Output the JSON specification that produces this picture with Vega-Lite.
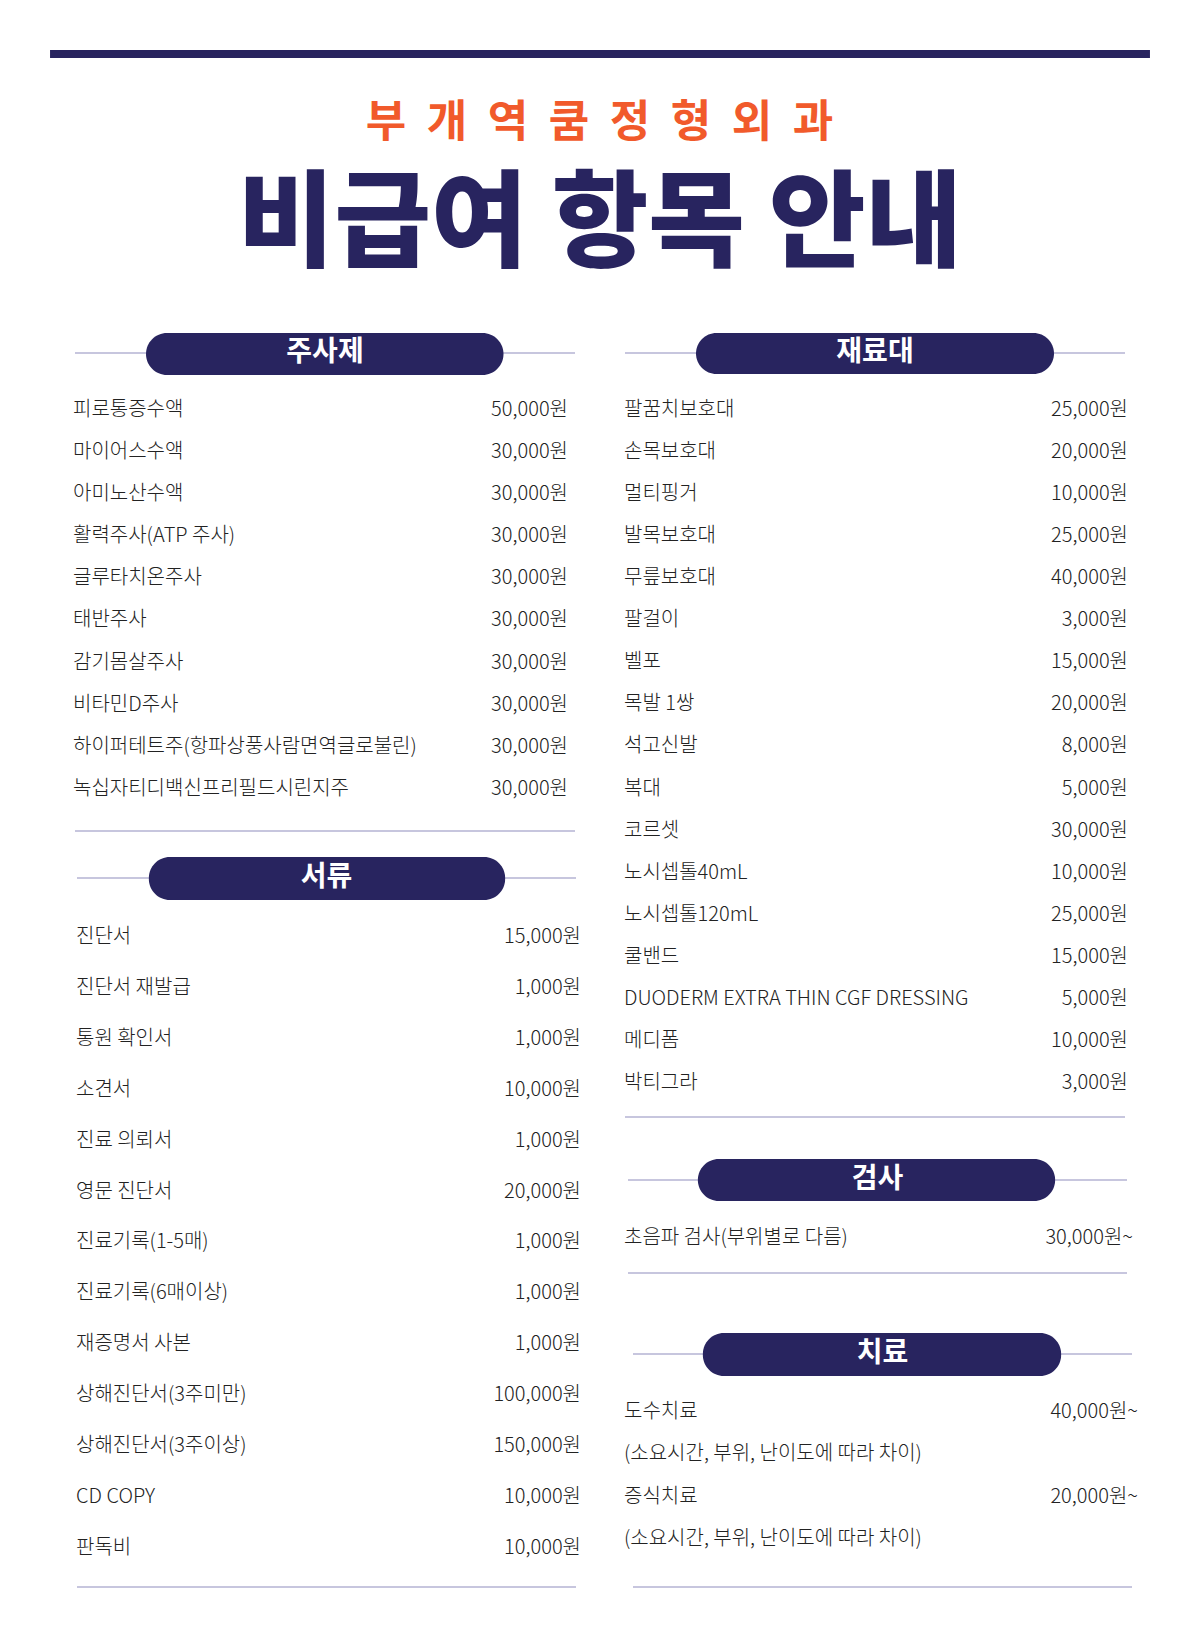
{
  "$schema": "https://vega.github.io/schema/vega-lite/v6.json",
  "padding": 0,
  "background": "#ffffff",
  "spacing": 0,
  "bounds": "flush",
  "datasets": {
    "clinic": [
      {"char": "부"}, {"char": "개"}, {"char": "역"}, {"char": "쿰"},
      {"char": "정"}, {"char": "형"}, {"char": "외"}, {"char": "과"}
    ],
    "injections": [
      {"item": "피로통증수액", "price": "50,000원"},
      {"item": "마이어스수액", "price": "30,000원"},
      {"item": "아미노산수액", "price": "30,000원"},
      {"item": "활력주사(ATP 주사)", "price": "30,000원"},
      {"item": "글루타치온주사", "price": "30,000원"},
      {"item": "태반주사", "price": "30,000원"},
      {"item": "감기몸살주사", "price": "30,000원"},
      {"item": "비타민D주사", "price": "30,000원"},
      {"item": "하이퍼테트주(항파상풍사람면역글로불린)", "price": "30,000원"},
      {"item": "녹십자티디백신프리필드시린지주", "price": "30,000원"}
    ],
    "documents": [
      {"item": "진단서", "price": "15,000원"},
      {"item": "진단서 재발급", "price": "1,000원"},
      {"item": "통원 확인서", "price": "1,000원"},
      {"item": "소견서", "price": "10,000원"},
      {"item": "진료 의뢰서", "price": "1,000원"},
      {"item": "영문 진단서", "price": "20,000원"},
      {"item": "진료기록(1-5매)", "price": "1,000원"},
      {"item": "진료기록(6매이상)", "price": "1,000원"},
      {"item": "재증명서 사본", "price": "1,000원"},
      {"item": "상해진단서(3주미만)", "price": "100,000원"},
      {"item": "상해진단서(3주이상)", "price": "150,000원"},
      {"item": "CD COPY", "price": "10,000원"},
      {"item": "판독비", "price": "10,000원"}
    ],
    "materials": [
      {"item": "팔꿈치보호대", "price": "25,000원"},
      {"item": "손목보호대", "price": "20,000원"},
      {"item": "멀티핑거", "price": "10,000원"},
      {"item": "발목보호대", "price": "25,000원"},
      {"item": "무릎보호대", "price": "40,000원"},
      {"item": "팔걸이", "price": "3,000원"},
      {"item": "벨포", "price": "15,000원"},
      {"item": "목발 1쌍", "price": "20,000원"},
      {"item": "석고신발", "price": "8,000원"},
      {"item": "복대", "price": "5,000원"},
      {"item": "코르셋", "price": "30,000원"},
      {"item": "노시셉톨40mL", "price": "10,000원"},
      {"item": "노시셉톨120mL", "price": "25,000원"},
      {"item": "쿨밴드", "price": "15,000원"},
      {"item": "DUODERM EXTRA THIN CGF DRESSING", "price": "5,000원"},
      {"item": "메디폼", "price": "10,000원"},
      {"item": "박티그라", "price": "3,000원"}
    ],
    "tests": [
      {"item": "초음파 검사(부위별로 다름)", "price": "30,000원~"}
    ],
    "treatments": [
      {"item": "도수치료", "price": "40,000원~"},
      {"item": "(소요시간, 부위, 난이도에 따라 차이)", "price": ""},
      {"item": "증식치료", "price": "20,000원~"},
      {"item": "(소요시간, 부위, 난이도에 따라 차이)", "price": ""}
    ]
  },
  "vconcat": [
    {
      "width": 1200,
      "height": 310,
      "resolve": {"scale": {"x": "independent"}},
      "layer": [
        {
          "data": {"values": [{}]},
          "mark": {"type": "rule", "color": "#28245f", "strokeWidth": 8},
          "encoding": {
            "x": {"datum": 0.0417, "type": "quantitative", "scale": {"domain": [0, 1], "nice": false, "zero": false}, "axis": null},
            "x2": {"datum": 0.9583},
            "y": {"datum": 0.174, "type": "quantitative", "scale": {"domain": [0, 1], "reverse": true, "nice": false, "zero": false}, "axis": null}
          }
        },
        {
          "data": {"name": "clinic"},
          "mark": {"type": "text", "color": "#f15a2b", "fontSize": 44, "fontWeight": "bold", "align": "center", "baseline": "middle", "font": "Noto Sans CJK KR"},
          "encoding": {
            "x": {"field": "char", "type": "nominal", "sort": null, "scale": {"type": "point", "range": [386, 813], "padding": 0}, "axis": null},
            "y": {"datum": 0.4, "type": "quantitative", "axis": null},
            "text": {"field": "char"}
          }
        },
        {
          "data": {"values": [{"title": "비급여 항목 안내"}]},
          "mark": {"type": "text", "color": "#28245f", "fontSize": 105, "fontWeight": 900, "align": "center", "baseline": "middle", "font": "Noto Sans CJK KR"},
          "encoding": {
            "x": {"datum": 0.5, "type": "quantitative", "scale": {"domain": [0, 1], "nice": false, "zero": false}, "axis": null},
            "y": {"datum": 0.73, "type": "quantitative", "axis": null},
            "text": {"field": "title"}
          }
        }
      ]
    },
    {
      "spacing": 0,
      "bounds": "full",
      "resolve": {"scale": {"x": "independent", "y": "independent"}},
      "hconcat": [
        {
          "spacing": 0,
          "bounds": "flush",
          "resolve": {"scale": {"x": "independent", "y": "independent"}},
          "vconcat": [
            {
              "width": 600,
              "height": 540,
              "layer": [
                {
                  "data": {"values": [{}]},
                  "mark": {"type": "rule", "color": "#b5b3d3", "strokeWidth": 1.5},
                  "encoding": {
                    "x": {"datum": 0, "type": "quantitative", "scale": {"domain": [0, 1], "range": [75, 575], "nice": false, "zero": false}, "axis": null},
                    "x2": {"datum": 1},
                    "y": {"datum": -0.306, "type": "quantitative", "scale": {"domain": [-1.328, 11.499], "reverse": true, "nice": false, "zero": false}, "axis": null}
                  }
                },
                {
                  "data": {"values": [{}]},
                  "mark": {"type": "rule", "color": "#b5b3d3", "strokeWidth": 1.5},
                  "encoding": {
                    "x": {"datum": 0, "type": "quantitative", "axis": null},
                    "x2": {"datum": 1},
                    "y": {"datum": 11.048, "type": "quantitative", "axis": null}
                  }
                },
                {
                  "data": {"values": [{}]},
                  "mark": {"type": "rect", "color": "#28245f", "cornerRadius": 21},
                  "encoding": {
                    "x": {"datum": 0.142, "type": "quantitative", "axis": null},
                    "x2": {"datum": 0.857},
                    "y": {"datum": -0.781, "type": "quantitative", "axis": null},
                    "y2": {"datum": 0.216}
                  }
                },
                {
                  "data": {"values": [{"title": "주사제"}]},
                  "mark": {"type": "text", "color": "#ffffff", "fontSize": 28, "fontWeight": "bold", "align": "center", "baseline": "middle"},
                  "encoding": {
                    "x": {"datum": 0.5, "type": "quantitative", "axis": null},
                    "y": {"datum": -0.306, "type": "quantitative", "axis": null},
                    "text": {"field": "title"}
                  }
                },
                {
                  "data": {"name": "injections"},
                  "transform": [{"window": [{"op": "row_number", "as": "no"}]}],
                  "layer": [
                    {
                      "mark": {"type": "text", "align": "left", "baseline": "middle", "fontSize": 20, "fontWeight": 300, "color": "#222222", "dx": -2, "dy": 2},
                      "encoding": {
                        "x": {"datum": 0, "type": "quantitative", "axis": null},
                        "y": {"field": "no", "type": "quantitative", "axis": null},
                        "text": {"field": "item"}
                      }
                    },
                    {
                      "mark": {"type": "text", "align": "right", "baseline": "middle", "fontSize": 20, "fontWeight": 300, "color": "#222222", "dx": -7, "dy": 2},
                      "encoding": {
                        "x": {"datum": 1, "type": "quantitative", "axis": null},
                        "y": {"field": "no", "type": "quantitative", "axis": null},
                        "text": {"field": "price"}
                      }
                    }
                  ]
                }
              ]
            },
            {
              "width": 600,
              "height": 750,
              "layer": [
                {
                  "data": {"values": [{}]},
                  "mark": {"type": "rule", "color": "#b5b3d3", "strokeWidth": 1.5},
                  "encoding": {
                    "x": {"datum": 0, "type": "quantitative", "scale": {"domain": [0, 1], "range": [77, 576], "nice": false, "zero": false}, "axis": null},
                    "x2": {"datum": 1},
                    "y": {"datum": -0.1, "type": "quantitative", "scale": {"domain": [-0.65, 14.084], "reverse": true, "nice": false, "zero": false}, "axis": null}
                  }
                },
                {
                  "data": {"values": [{}]},
                  "mark": {"type": "rule", "color": "#b5b3d3", "strokeWidth": 1.5},
                  "encoding": {
                    "x": {"datum": 0, "type": "quantitative", "axis": null},
                    "x2": {"datum": 1},
                    "y": {"datum": 13.829, "type": "quantitative", "axis": null}
                  }
                },
                {
                  "data": {"values": [{}]},
                  "mark": {"type": "rect", "color": "#28245f", "cornerRadius": 21},
                  "encoding": {
                    "x": {"datum": 0.144, "type": "quantitative", "axis": null},
                    "x2": {"datum": 0.858},
                    "y": {"datum": -0.513, "type": "quantitative", "axis": null},
                    "y2": {"datum": 0.332}
                  }
                },
                {
                  "data": {"values": [{"title": "서류"}]},
                  "mark": {"type": "text", "color": "#ffffff", "fontSize": 28, "fontWeight": "bold", "align": "center", "baseline": "middle"},
                  "encoding": {
                    "x": {"datum": 0.5, "type": "quantitative", "axis": null},
                    "y": {"datum": -0.1, "type": "quantitative", "axis": null},
                    "text": {"field": "title"}
                  }
                },
                {
                  "data": {"name": "documents"},
                  "transform": [{"window": [{"op": "row_number", "as": "no"}]}],
                  "layer": [
                    {
                      "mark": {"type": "text", "align": "left", "baseline": "middle", "fontSize": 20, "fontWeight": 300, "color": "#222222", "dx": -1, "dy": 3},
                      "encoding": {
                        "x": {"datum": 0, "type": "quantitative", "axis": null},
                        "y": {"field": "no", "type": "quantitative", "axis": null},
                        "text": {"field": "item"}
                      }
                    },
                    {
                      "mark": {"type": "text", "align": "right", "baseline": "middle", "fontSize": 20, "fontWeight": 300, "color": "#222222", "dx": 5, "dy": 3},
                      "encoding": {
                        "x": {"datum": 1, "type": "quantitative", "axis": null},
                        "y": {"field": "no", "type": "quantitative", "axis": null},
                        "text": {"field": "price"}
                      }
                    }
                  ]
                }
              ]
            }
          ]
        },
        {
          "spacing": 0,
          "bounds": "flush",
          "resolve": {"scale": {"x": "independent", "y": "independent"}},
          "vconcat": [
            {
              "width": 600,
              "height": 830,
              "layer": [
                {
                  "data": {"values": [{}]},
                  "mark": {"type": "rule", "color": "#b5b3d3", "strokeWidth": 1.5},
                  "encoding": {
                    "x": {"datum": 0, "type": "quantitative", "scale": {"domain": [0, 1], "range": [25, 525], "nice": false, "zero": false}, "axis": null},
                    "x2": {"datum": 1},
                    "y": {"datum": -0.308, "type": "quantitative", "scale": {"domain": [-1.33, 18.404], "reverse": true, "nice": false, "zero": false}, "axis": null}
                  }
                },
                {
                  "data": {"values": [{}]},
                  "mark": {"type": "rule", "color": "#b5b3d3", "strokeWidth": 1.5},
                  "encoding": {
                    "x": {"datum": 0, "type": "quantitative", "axis": null},
                    "x2": {"datum": 1},
                    "y": {"datum": 17.857, "type": "quantitative", "axis": null}
                  }
                },
                {
                  "data": {"values": [{}]},
                  "mark": {"type": "rect", "color": "#28245f", "cornerRadius": 21},
                  "encoding": {
                    "x": {"datum": 0.142, "type": "quantitative", "axis": null},
                    "x2": {"datum": 0.858},
                    "y": {"datum": -0.783, "type": "quantitative", "axis": null},
                    "y2": {"datum": 0.192}
                  }
                },
                {
                  "data": {"values": [{"title": "재료대"}]},
                  "mark": {"type": "text", "color": "#ffffff", "fontSize": 28, "fontWeight": "bold", "align": "center", "baseline": "middle"},
                  "encoding": {
                    "x": {"datum": 0.5, "type": "quantitative", "axis": null},
                    "y": {"datum": -0.308, "type": "quantitative", "axis": null},
                    "text": {"field": "title"}
                  }
                },
                {
                  "data": {"name": "materials"},
                  "transform": [{"window": [{"op": "row_number", "as": "no"}]}],
                  "layer": [
                    {
                      "mark": {"type": "text", "align": "left", "baseline": "middle", "fontSize": 20, "fontWeight": 300, "color": "#222222", "dx": -1, "dy": 2},
                      "encoding": {
                        "x": {"datum": 0, "type": "quantitative", "axis": null},
                        "y": {"field": "no", "type": "quantitative", "axis": null},
                        "text": {"field": "item"}
                      }
                    },
                    {
                      "mark": {"type": "text", "align": "right", "baseline": "middle", "fontSize": 20, "fontWeight": 300, "color": "#222222", "dx": 3, "dy": 2},
                      "encoding": {
                        "x": {"datum": 1, "type": "quantitative", "axis": null},
                        "y": {"field": "no", "type": "quantitative", "axis": null},
                        "text": {"field": "price"}
                      }
                    }
                  ]
                }
              ]
            },
            {
              "width": 600,
              "height": 170,
              "layer": [
                {
                  "data": {"values": [{}]},
                  "mark": {"type": "rule", "color": "#b5b3d3", "strokeWidth": 1.5},
                  "encoding": {
                    "x": {"datum": 0, "type": "quantitative", "scale": {"domain": [0, 1], "range": [28, 527], "nice": false, "zero": false}, "axis": null},
                    "x2": {"datum": 1},
                    "y": {"datum": -0.357, "type": "quantitative", "scale": {"domain": [-1.31, 2.738], "reverse": true, "nice": false, "zero": false}, "axis": null}
                  }
                },
                {
                  "data": {"values": [{}]},
                  "mark": {"type": "rule", "color": "#b5b3d3", "strokeWidth": 1.5},
                  "encoding": {
                    "x": {"datum": 0, "type": "quantitative", "axis": null},
                    "x2": {"datum": 1},
                    "y": {"datum": 1.857, "type": "quantitative", "axis": null}
                  }
                },
                {
                  "data": {"values": [{}]},
                  "mark": {"type": "rect", "color": "#28245f", "cornerRadius": 21},
                  "encoding": {
                    "x": {"datum": 0.14, "type": "quantitative", "axis": null},
                    "x2": {"datum": 0.856},
                    "y": {"datum": -0.857, "type": "quantitative", "axis": null},
                    "y2": {"datum": 0.143}
                  }
                },
                {
                  "data": {"values": [{"title": "검사"}]},
                  "mark": {"type": "text", "color": "#ffffff", "fontSize": 28, "fontWeight": "bold", "align": "center", "baseline": "middle"},
                  "encoding": {
                    "x": {"datum": 0.5, "type": "quantitative", "axis": null},
                    "y": {"datum": -0.357, "type": "quantitative", "axis": null},
                    "text": {"field": "title"}
                  }
                },
                {
                  "data": {"name": "tests"},
                  "transform": [{"window": [{"op": "row_number", "as": "no"}]}],
                  "layer": [
                    {
                      "mark": {"type": "text", "align": "left", "baseline": "middle", "fontSize": 20, "fontWeight": 300, "color": "#222222", "dx": -4, "dy": 1},
                      "encoding": {
                        "x": {"datum": 0, "type": "quantitative", "axis": null},
                        "y": {"field": "no", "type": "quantitative", "axis": null},
                        "text": {"field": "item"}
                      }
                    },
                    {
                      "mark": {"type": "text", "align": "right", "baseline": "middle", "fontSize": 20, "fontWeight": 300, "color": "#222222", "dx": 6, "dy": 1},
                      "encoding": {
                        "x": {"datum": 1, "type": "quantitative", "axis": null},
                        "y": {"field": "no", "type": "quantitative", "axis": null},
                        "text": {"field": "price"}
                      }
                    }
                  ]
                }
              ]
            },
            {
              "width": 600,
              "height": 290,
              "layer": [
                {
                  "data": {"values": [{}]},
                  "mark": {"type": "rule", "color": "#b5b3d3", "strokeWidth": 1.5},
                  "encoding": {
                    "x": {"datum": 0, "type": "quantitative", "scale": {"domain": [0, 1], "range": [33, 532], "nice": false, "zero": false}, "axis": null},
                    "x2": {"datum": 1},
                    "y": {"datum": -0.324, "type": "quantitative", "scale": {"domain": [-1.364, 5.492], "reverse": true, "nice": false, "zero": false}, "axis": null}
                  }
                },
                {
                  "data": {"values": [{}]},
                  "mark": {"type": "rule", "color": "#b5b3d3", "strokeWidth": 1.5},
                  "encoding": {
                    "x": {"datum": 0, "type": "quantitative", "axis": null},
                    "x2": {"datum": 1},
                    "y": {"datum": 5.184, "type": "quantitative", "axis": null}
                  }
                },
                {
                  "data": {"values": [{}]},
                  "mark": {"type": "rect", "color": "#28245f", "cornerRadius": 21},
                  "encoding": {
                    "x": {"datum": 0.14, "type": "quantitative", "axis": null},
                    "x2": {"datum": 0.858},
                    "y": {"datum": -0.82, "type": "quantitative", "axis": null},
                    "y2": {"datum": 0.196}
                  }
                },
                {
                  "data": {"values": [{"title": "치료"}]},
                  "mark": {"type": "text", "color": "#ffffff", "fontSize": 28, "fontWeight": "bold", "align": "center", "baseline": "middle"},
                  "encoding": {
                    "x": {"datum": 0.5, "type": "quantitative", "axis": null},
                    "y": {"datum": -0.324, "type": "quantitative", "axis": null},
                    "text": {"field": "title"}
                  }
                },
                {
                  "data": {"name": "treatments"},
                  "transform": [{"window": [{"op": "row_number", "as": "no"}]}],
                  "layer": [
                    {
                      "mark": {"type": "text", "align": "left", "baseline": "middle", "fontSize": 20, "fontWeight": 300, "color": "#222222", "dx": -9, "dy": 2},
                      "encoding": {
                        "x": {"datum": 0, "type": "quantitative", "axis": null},
                        "y": {"field": "no", "type": "quantitative", "axis": null},
                        "text": {"field": "item"}
                      }
                    },
                    {
                      "mark": {"type": "text", "align": "right", "baseline": "middle", "fontSize": 20, "fontWeight": 300, "color": "#222222", "dx": 6, "dy": 2},
                      "encoding": {
                        "x": {"datum": 1, "type": "quantitative", "axis": null},
                        "y": {"field": "no", "type": "quantitative", "axis": null},
                        "text": {"field": "price"}
                      }
                    }
                  ]
                }
              ]
            }
          ]
        }
      ]
    }
  ],
  "config": {
    "view": {"stroke": null},
    "font": "Noto Sans CJK KR",
    "text": {"font": "Noto Sans CJK KR"}
  }
}
